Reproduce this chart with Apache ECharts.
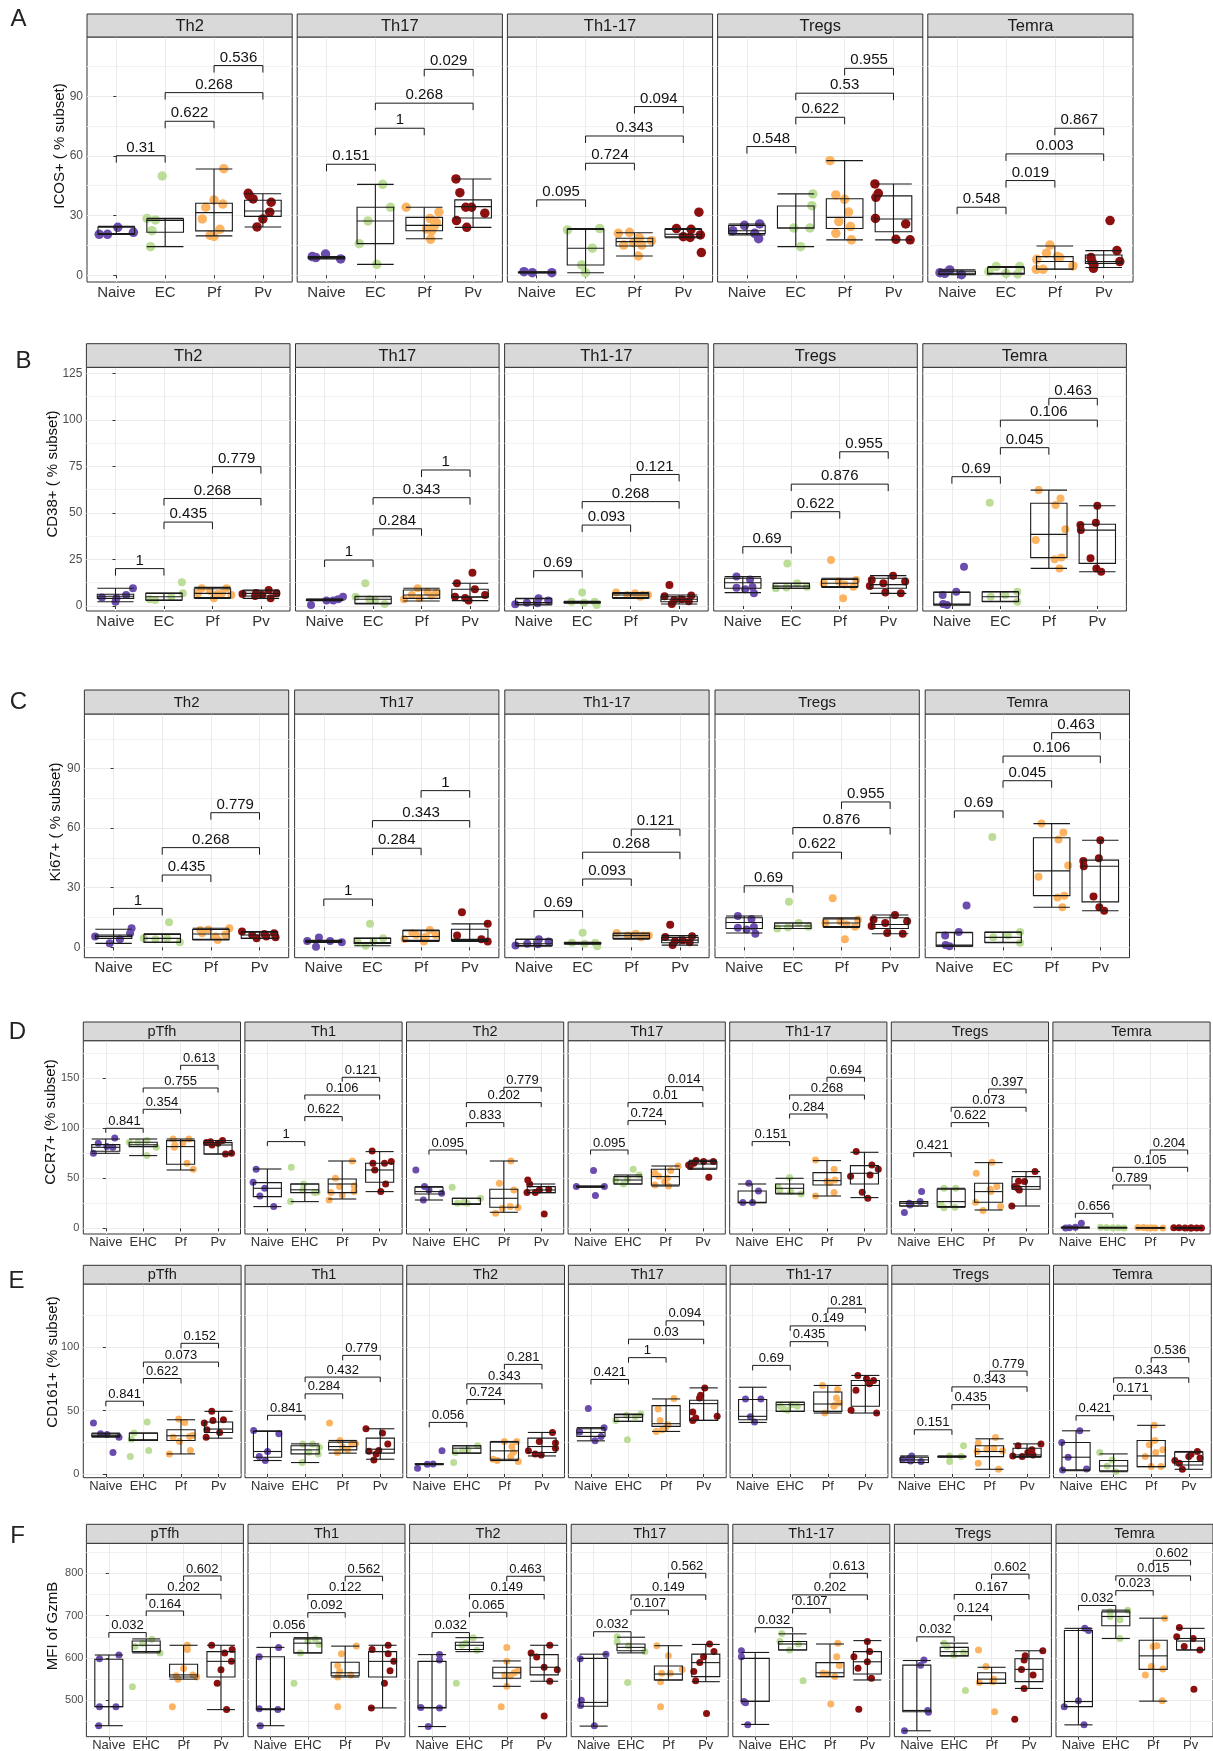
<!DOCTYPE html>
<html><head><meta charset="utf-8">
<script src="https://cdn.jsdelivr.net/npm/echarts@6/dist/echarts.min.js"></script>
<style>html,body{margin:0;padding:0;background:#fff}#c{width:1213px;height:1751px}</style>
</head><body><div id="c"></div>
<script>
// ---------- categories / labels ----------
const GROUPS_ABC = ['Naive','EC','Pf','Pv'];
const GROUPS_DEF = ['Naive','EHC','Pf','Pv'];
const SUBSETS_ABC = ['Th2','Th17','Th1-17','Tregs','Temra'];
const SUBSETS_DEF = ['pTfh','Th1','Th2','Th17','Th1-17','Tregs','Temra'];
const Y_TITLES = ['ICOS+ ( % subset)','CD38+ ( % subset)','Ki67+ ( % subset)','CCR7+ (% subset)','CD161+ (% subset)','MFI of GzmB'];
const LETTERS = ['A','B','C','D','E','F'];
const TICKS_A = [0,30,60,90], MINOR_A = [15,45,75,105];
const TICKS_B = [0,25,50,75,100,125], MINOR_B = [12.5,37.5,62.5,87.5,112.5];
const TICKS_C = [0,30,60,90], MINOR_C = [15,45,75,105];
const TICKS_D = [0,50,100,150], MINOR_D = [25,75,125,175];
const TICKS_E = [0,50,100], MINOR_E = [25,75,125];
const TICKS_F = [500,600,700,800], MINOR_F = [450,550,650,750,850];
const COMPARISONS = [[0,1],[1,2],[1,3],[2,3]];

// ---------- Row A : ICOS ----------
const A_Th2_box = [[20.5,20.8,21.0,24.2,24.6],[14.4,21.6,27.5,28.3,28.6],[19.8,22.3,31.5,36.2,53.4],[24.3,29.6,32.3,37.7,41.0]];
const A_Th2_val = [[20.6,20.6,24.1,21.6],[49.9,28.6,27.8,22.4,14.4],[53.6,37.9,35.8,34.2,28.3,23.1,20.1,19.5],[41.2,40.0,38.4,36.7,31.7,28.3,24.3]];
const A_Th2_jit = [[-0.35,-0.18,0.03,0.35],[-0.06,-0.37,-0.2,-0.27,-0.3],[0.2,0,0.18,-0.17,-0.24,0.12,-0.08,0],[-0.3,-0.28,-0.2,0.17,0.14,0,-0.12]];
const A_Th2_brk = [60.1,77.4,91.8,105.4];
const A_Th2_p = ['0.31','0.622','0.268','0.536'];

const A_Th17_box = [[8.2,8.6,8.9,9.2,9.4],[5.5,15.9,27.3,34.2,45.7],[18.4,22.4,25.1,29.1,34.2],[24.1,28.8,34.5,37.9,48.4]];
const A_Th17_val = [[9.4,8.9,10.7,8.2],[45.7,34.2,27.3,15.9,5.5],[34.2,31.8,28.5,26.5,24.5,23.3,22.3,18.1],[48.4,41.5,34.2,34.2,31.2,27.5,24.1]];
const A_Th17_jit = [[-0.29,-0.22,-0.02,0.29],[0.15,0.31,-0.15,-0.33,0.03],[-0.37,0.3,0.12,0.25,0.2,0.05,0.15,0.13],[-0.35,-0.27,-0.15,-0.03,0.24,-0.34,-0.13]];
const A_Th17_brk = [55.8,73.9,86.5,103.5];
const A_Th17_p = ['0.151','1','0.268','0.029'];

const A_Th1_17_box = [[1.2,1.3,1.4,1.6,1.8],[1.3,5.2,13.6,23.1,23.5],[9.7,14.7,16.9,18.6,21.4],[18.9,19.3,20.6,23.1,23.5]];
const A_Th1_17_val = [[1.8,1.3,1.3],[22.8,23.5,13.6,5.2,1.3],[21.6,21.1,18.9,17.4,16.4,15.2,15.2,9.7],[31.7,23.5,23.1,20.3,19.4,19.0,11.4]];
const A_Th1_17_jit = [[-0.26,-0.09,0.31],[-0.37,0.29,0.14,-0.08,0],[-0.1,-0.33,0.1,0.35,-0.02,-0.22,0.15,0.08],[0.32,-0.14,0.16,0.35,0,0.14,0.37]];
const A_Th1_17_brk = [37.9,56.3,70.0,84.8];
const A_Th1_17_p = ['0.095','0.724','0.343','0.094'];

const A_Tregs_box = [[20.3,21.0,22.4,25.1,25.8],[14.4,23.8,23.8,34.8,40.9],[17.8,23.5,29.1,38.5,57.6],[17.8,21.9,28.3,39.9,45.9]];
const A_Tregs_val = [[22.4,25.1,25.8,21.1,18.4],[40.9,35.0,23.8,23.8,14.4],[57.6,40.4,38.2,31.8,27.0,24.5,21.1,17.8],[45.9,41.2,39.2,28.6,25.8,18.1,17.8]];
const A_Tregs_jit = [[-0.29,-0.05,0.26,0.16,0.24],[0.35,0.33,-0.04,0.29,0.1],[-0.3,-0.18,0,0.08,-0.12,0.12,-0.18,0.14],[-0.38,-0.31,-0.36,-0.37,0.25,0.05,0.34]];
const A_Tregs_brk = [64.7,79.4,91.5,104.0];
const A_Tregs_p = ['0.548','0.622','0.53','0.955'];

const A_Temra_box = [[0.3,0.5,1.0,2.0,2.7],[0.7,0.7,1.0,3.9,4.4],[3.0,3.2,6.9,9.4,14.7],[3.9,6.0,6.9,10.2,12.4]];
const A_Temra_val = [[1.3,2.7,0.3,1.0],[4.4,4.4,1.8,0.7,1.0],[15.2,11.1,9.4,8.9,8.0,4.7,3.0,3.0],[27.5,12.4,9.0,6.9,6.9,5.2,3.5]];
const A_Temra_jit = [[-0.35,-0.15,0.09,-0.25],[-0.2,0.28,-0.35,0.24,0],[-0.1,-0.17,0.05,0.1,-0.37,0.37,-0.38,-0.24],[0.13,0.27,-0.26,0.33,-0.24,-0.2,-0.21]];
const A_Temra_brk = [34.2,47.6,61.0,73.9];
const A_Temra_p = ['0.548','0.019','0.003','0.867'];

// ---------- Row B : CD38 ----------
const B_Th2_box = [[2.3,4.1,5.2,6.3,9.5],[3.0,3.2,5.0,6.8,7.0],[4.1,4.5,6.8,9.3,10.0],[4.1,5.4,6.8,8.2,8.6]];
const B_Th2_val = [[9.5,5.9,4.5,4.2,2.3],[12.7,6.8,4.9,3.6,3.2],[9.5,9.5,8.1,6.8,6.8,6.5,5.9,4.1],[8.6,7.0,6.8,6.4,5.9,5.4,4.1]];
const B_Th2_jit = [[0.36,0.22,-0.28,0.02,0],[0.37,0.39,0.15,-0.29,-0.18],[-0.22,0.29,-0.05,-0.3,0.2,0.1,0.39,0.03],[0.16,-0.1,0.32,-0.38,0.03,-0.12,0.2]];
const B_Th2_brk = [20.1,45.1,57.8,74.9];
const B_Th2_p = ['1','0.435','0.268','0.779'];

const B_Th17_box = [[2.9,3.0,3.3,3.6,3.8],[1.1,1.4,3.6,5.0,5.2],[2.7,4.1,5.9,8.6,9.5],[2.9,4.7,5.0,9.0,12.2]];
const B_Th17_val = [[5.0,3.6,2.9,2.9,0.5],[12.2,5.0,3.6,2.9,1.1],[9.5,7.7,7.0,5.9,5.6,4.1,3.6],[17.9,12.2,9.0,5.9,5.0,4.3,2.9]];
const B_Th17_jit = [[0.38,0.28,0.04,0.18,-0.28],[-0.16,-0.36,-0.08,0.04,0.24],[-0.08,0.12,0.3,-0.2,0.2,-0.04,-0.36],[0.05,-0.27,0.1,0.31,-0.31,-0.1,-0.03]];
const B_Th17_brk = [24.7,41.5,58.2,73.1];
const B_Th17_p = ['1','0.284','0.343','1'];

const B_Th1_17_box = [[0.5,0.9,1.8,3.9,4.1],[1.5,1.8,2.0,2.3,2.5],[4.1,4.5,5.9,6.8,7.2],[1.1,2.3,3.6,5.0,5.9]];
const B_Th1_17_val = [[4.1,2.9,1.8,1.5,0.9],[7.3,2.3,2.3,1.8,0.5],[7.2,6.8,6.0,5.9,5.9,5.0],[11.3,5.6,5.2,3.6,3.2,2.5,1.1]];
const B_Th1_17_jit = [[0.1,0.3,-0.14,0.08,-0.38],[0,-0.22,0.26,0.04,0.3],[-0.3,0.09,0.25,-0.07,0.36,0.2],[-0.2,0.25,-0.3,0.06,-0.1,0.2,-0.15]];
const B_Th1_17_brk = [19.0,43.5,56.1,70.7];
const B_Th1_17_p = ['0.69','0.093','0.268','0.121'];

const B_Tregs_box = [[7.2,9.5,12.5,14.9,15.8],[9.5,9.5,10.7,12.2,12.2],[10.0,10.4,12.2,14.3,14.9],[6.8,9.5,11.5,14.9,16.3]];
const B_Tregs_val = [[15.8,14.3,10.2,9.8,9.0,6.8],[22.9,12.2,10.4,10.0,9.5],[24.7,14.0,13.1,12.2,11.5,10.4,4.1],[16.3,14.0,13.1,12.2,10.7,7.2,6.8]];
const B_Tregs_jit = [[-0.13,0.15,0.2,-0.13,0.05,0.23],[-0.08,0.12,0.32,-0.1,-0.32],[-0.18,0.34,-0.02,-0.33,0.1,0.28,0.07],[0.1,-0.34,0.35,-0.1,-0.38,-0.06,0.26]];
const B_Tregs_brk = [31.9,50.7,65.5,82.9];
const B_Tregs_p = ['0.69','0.622','0.876','0.955'];

const B_Temra_box = [[0.5,0.6,1.1,7.3,7.5],[2.3,2.5,5.0,7.5,7.7],[20.2,26.0,38.5,55.2,62.3],[18.4,22.9,40.8,43.9,53.9]];
const B_Temra_val = [[21.1,7.7,5.9,1.1,0.5],[55.5,7.7,5.9,5.0,2.3],[62.3,57.8,54.3,41.2,35.5,26.0,25.1,20.2],[53.9,44.8,43.5,40.8,25.6,20.2,18.4]];
const B_Temra_jit = [[0.25,0.09,-0.19,-0.18,-0.1],[-0.22,0.35,0.1,-0.2,0.35],[-0.21,0.24,0.14,0.34,-0.27,0.26,0.12,0.22],[0,-0.03,-0.35,-0.34,-0.14,-0.02,0.08]];
const B_Temra_brk = [69.5,85.1,99.9,111.6];
const B_Temra_p = ['0.69','0.045','0.106','0.463'];

// ---------- Row C : Ki67 ----------
const C_Th2_box = [[2.0,4.5,5.5,6.2,9.1],[2.5,2.5,4.5,6.5,6.8],[3.7,4.0,6.7,9.0,9.6],[4.5,4.5,6.2,7.6,7.9]];
const C_Th2_val = [[9.6,7.1,5.4,4.0,2.0],[12.6,4.5,4.5,4.0,2.5],[9.6,9.0,8.7,7.1,6.5,6.2,5.5,3.7],[7.9,7.1,6.7,6.2,5.4,5.0,4.5]];
const C_Th2_jit = [[0.37,0.34,-0.38,0.13,-0.08],[0.14,-0.38,0.1,-0.14,0.36],[0.38,-0.05,-0.22,-0.18,0.3,0.3,0.1,0.14],[-0.36,0.3,0.1,-0.15,0.14,0.33,-0.06]];
const C_Th2_brk = [19.6,36.4,50.2,67.8];
const C_Th2_p = ['1','0.435','0.268','0.779'];

const C_Th17_box = [[2.5,2.9,3.2,3.2,3.5],[0.8,2.0,2.4,4.5,4.7],[2.9,3.5,5.4,8.4,8.7],[2.9,3.4,4.0,9.1,11.8]];
const C_Th17_val = [[4.9,3.2,3.2,2.5,0.3],[11.9,4.5,2.9,2.4,0.8],[8.7,7.1,6.2,6.2,5.4,4.2,2.9],[17.6,11.8,6.0,4.0,2.9]];
const C_Th17_jit = [[-0.1,-0.34,0.13,0.37,-0.16],[-0.05,0.22,0.02,-0.3,-0.14],[0.18,-0.18,-0.1,0.3,0.1,-0.34,0.06],[-0.16,0.37,-0.26,0.24,0.37]];
const C_Th17_brk = [24.3,49.9,63.8,78.9];
const C_Th17_p = ['1','0.284','0.343','1'];

const C_Th1_17_box = B_Th1_17_box, C_Th1_17_val = B_Th1_17_val, C_Th1_17_jit = B_Th1_17_jit;
const C_Th1_17_brk = [18.5,34.4,47.9,59.5];
const C_Th1_17_p = ['0.69','0.093','0.268','0.121'];

const C_Tregs_box = B_Tregs_box, C_Tregs_val = B_Tregs_val, C_Tregs_jit = B_Tregs_jit;
const C_Tregs_brk = [31.0,47.9,60.3,73.2];
const C_Tregs_p = ['0.69','0.622','0.876','0.955'];

const C_Temra_box = B_Temra_box, C_Temra_val = B_Temra_val, C_Temra_jit = B_Temra_jit;
const C_Temra_brk = [68.7,83.9,96.3,108.1];
const C_Temra_p = ['0.69','0.045','0.106','0.463'];

// ---------- Row D : CCR7 ----------
const D_pTfh_box = [[75,77,81,83.7,89.3],[72.7,81.7,83.5,86,89.3],[58.3,64,81.7,87.7,89.3],[74.3,74.3,83.3,85.7,87.7]];
const D_pTfh_val = [[90.3,85,81.7,81,75],[87.7,86,86,81,72.7],[89.3,89.3,85.3,83.3,81,65,59],[87.7,86.5,85.7,85,83.3,75,74.3]];
const D_pTfh_jit = [[0.24,-0.2,0.03,0.19,-0.33],[0.1,-0.37,-0.14,0.35,0.1],[-0.2,0.22,0.06,-0.15,-0.17,0.17,0.34],[0.12,-0.2,-0.31,0,-0.16,0.36,0.2]];
const D_pTfh_brk = [100,119,140.3,163];
const D_pTfh_p = ['0.841','0.354','0.755','0.613'];

const D_Th1_box = [[21.7,31.7,40,45.7,59.3],[26.7,35.7,38.5,44.3,44.3],[29.3,35.7,44.3,49.3,67.3],[36.7,46,58.3,65,76.7]];
const D_Th1_val = [[59,46,40,32.3,21.7],[61,44.3,38.3,36,35.7,26.7],[67.3,50,42.3,41.7,36.7,35.7,33.3,28.3],[77.3,66.7,65,65,58.3,44.3,36.7]];
const D_Th1_jit = [[-0.3,-0.38,-0.07,-0.2,0.17],[-0.36,-0.03,-0.05,0.33,0.26,-0.38],[0.27,-0.18,0.32,-0.07,0.32,-0.3,0,-0.35],[-0.2,0.31,-0.18,0.13,-0.13,0.16,0.03]];
const D_Th1_brk = [86.7,111.7,133.3,151];
const D_Th1_p = ['1','0.622','0.106','0.121'];

const D_Th2_box = [[28.3,34.3,36.7,41,41.7],[24,24,24.5,30,30],[16,21,30,39,67.3],[35.7,35.7,38.3,41.7,44.3]];
const D_Th2_val = [[58.3,41.7,38.3,35,28.3],[41,30,25.7,25,25],[67.3,45,38.3,21.7,20.7,20,15],[48.3,44.3,39,38.3,35.7,35.7,14.3]];
const D_Th2_jit = [[-0.35,-0.12,0,0.34,-0.15],[-0.38,0.38,-0.08,-0.24,0.02],[0.19,-0.12,0.27,0.17,0.38,-0.04,-0.22],[-0.36,-0.31,0.2,-0.05,-0.16,-0.38,0.08]];
const D_Th2_brk = [78.3,105.7,125.7,141];
const D_Th2_p = ['0.095','0.833','0.202','0.779'];

const D_Th17_box = [[41,41.5,41.7,42,42.3],[44.3,44.3,48.3,51.7,53.3],[42.3,43.3,51.7,59,62.3],[59,60,64.3,66.7,68]];
const D_Th17_val = [[57.7,41.7,41.7,32.7],[59,53.3,49,47.7,44.3],[62.3,57.7,55,52,50,47,43.3,42.3],[67.7,66.7,66.7,65,63.3,61.7,51]];
const D_Th17_jit = [[0.08,-0.38,0.37,0.13],[0.14,0.3,-0.01,-0.33,-0.12],[0.34,0.14,-0.28,-0.18,0.05,-0.02,-0.28,0.08],[-0.18,0.02,0.28,-0.24,-0.38,-0.34,0.16]];
const D_Th17_brk = [78.3,107.7,125.7,141.7];
const D_Th17_p = ['0.095','0.724','0.01','0.014'];

const D_Th1_17_box = [[25.7,25.7,26,37.3,44.3],[34.3,35,40,44.3,50],[32.3,43.3,47.7,55.7,67.7],[30.7,44.3,55,62.7,76]];
const D_Th1_17_val = [[45,37.3,25.7,25.7],[50.7,41.7,38.3,36.7,34.3],[68.3,59,48.3,47,45.7,35.7,32.3],[76.7,63.3,59,53.3,52,36,30]];
const D_Th1_17_jit = [[-0.09,0.17,-0.25,0.01],[0,-0.31,-0.26,0.03,0.31],[-0.31,0.19,0.21,0,0.08,0.19,-0.31],[-0.22,0.2,0.37,0.15,-0.37,-0.06,0.09]];
const D_Th1_17_brk = [86.7,114.3,133.3,151];
const D_Th1_17_p = ['0.151','0.284','0.268','0.694'];

const D_Tregs_box = [[22.3,22.3,25,26.7,26.7],[21,21.7,26.7,39,40],[18.3,26,36.7,45,65.7],[22.3,39,41.7,51.7,56.7]];
const D_Tregs_val = [[36.7,26.7,25,23.3,15.7],[40,40,23.3,21,20.5],[66,55,41.7,39,36.7,26,21.7,17.7],[56.7,47,46.7,41.7,40,38.3,22.3]];
const D_Tregs_jit = [[0.21,0.17,-0.12,-0.1,-0.25],[-0.19,0.12,-0.27,0.1,-0.19],[0.09,-0.33,0.22,0.04,0.06,-0.35,0.32,-0.15],[0.24,-0.2,-0.04,-0.3,-0.22,-0.18,-0.38]];
const D_Tregs_brk = [75.7,105.7,121,139.3];
const D_Tregs_p = ['0.421','0.622','0.073','0.397'];

const D_Temra_box = [[0.3,0.5,0.8,1,1.2],[0.3,0.5,0.6,0.8,1],[0.2,0.3,0.5,0.7,0.8],[0.2,0.3,0.4,0.5,0.5]];
const D_Temra_val = [[5,1,0.5,0.3],[1,0.8,0.6,0.5,0.3],[0.8,0.7,0.5,0.4,0.3,0.2],[0.5,0.5,0.4,0.3,0.3,0.2,0.2]];
const D_Temra_jit = [[0.16,0,-0.16,-0.26],[-0.33,-0.17,0,0.15,0.3],[-0.33,-0.18,0.03,0.13,0.34,-0.07],[-0.37,-0.23,-0.07,0.08,0.24,0.37,0.1]];
const D_Temra_brk = [15,43.3,61,78.3];
const D_Temra_p = ['0.656','0.789','0.105','0.204'];

// ---------- Row E : CD161 ----------
const E_pTfh_box = [[29,29.6,30.5,31.7,32.2],[26.4,26.4,27,32.2,32.2],[15.8,26.4,30.1,34.8,42.7],[28.2,32.7,35.4,40.9,49.3]];
const E_pTfh_val = [[40.1,31.7,31,29,16.9],[40.9,32.2,27.4,18.5,13.7],[43.3,40.6,30.3,29.6,29,25.6,18.5,15.8],[49.3,42.7,42.2,40.1,34.8,32.7,29]];
const E_pTfh_jit = [[-0.33,-0.14,0.03,0.35,0.19],[0.1,-0.25,-0.32,0.14,-0.35],[-0.06,0.1,0.31,0.23,-0.21,-0.04,0.25,-0.31],[-0.18,0.13,-0.15,-0.38,-0.31,0.03,-0.33]];
const E_pTfh_brk = [57.3,75.2,88.1,102.9];
const E_pTfh_p = ['0.841','0.622','0.073','0.152'];

const E_Th1_box = [[10.6,13.2,17.7,33.5,34],[9,15.8,19,22.2,23.7],[16.4,19,21.6,25.1,26.4],[11.6,16.4,19.5,28.2,35.6]];
const E_Th1_val = [[34.3,31.7,17.7,13.7,10.6],[23.7,23.7,21.1,17.2,15.8,9],[40.1,26.4,24,23.5,21,19,16.9],[35.6,32.2,23.7,18.5,17.9,15.8,11.1]];
const E_Th1_jit = [[-0.37,0.3,0,-0.22,-0.06],[-0.06,0.2,0.38,0.1,0.35,-0.08],[-0.35,-0.07,0.34,0.24,0,0.13,-0.14],[-0.38,0.06,0.2,-0.04,-0.3,-0.11,-0.17]];
const E_Th1_brk = [46.2,63.1,76.3,93.4];
const E_Th1_p = ['0.841','0.284','0.432','0.779'];

const E_Th2_box = [[7.3,7.6,7.9,8,8],[16.4,16.4,20.3,22.2,22.2],[10.6,11.6,18.2,25.1,25.6],[14.2,16.9,21.6,28.2,32.7]];
const E_Th2_val = [[18.2,7.9,7.6,4.5],[22.2,19,18.2,16.9,9],[25.6,25.6,21.6,17.2,13.7,11.6,10.6,9.8],[32.7,25.6,24.3,20.3,18.2,15.8,15]];
const E_Th2_jit = [[0.34,0.1,-0.05,-0.31],[0.29,0.03,-0.12,-0.31,-0.35],[0,0.33,0.2,0.24,0.17,-0.3,-0.19,0.37],[0.28,-0.07,0.36,0.36,-0.36,-0.18,-0.02]];
const E_Th2_brk = [40.6,58.6,71,86.3];
const E_Th2_p = ['0.056','0.724','0.343','0.281'];

const E_Th17_box = [[26.1,29.6,32.7,35.6,36.5],[41.4,41.4,44.6,46.7,47.2],[33.5,37.5,39.6,53.8,59.1],[42.2,42.2,55.4,58,67.8]];
const E_Th17_val = [[51.5,36.5,33,29.6,26.1],[47.2,46.2,45,42.2,26.9],[59.4,51.2,42.2,38.8,36.1,34.8,33.5],[67.8,62,59.9,48.8,45.4,44,42.2]];
const E_Th17_jit = [[-0.07,0.35,-0.3,0.27,0.11],[0.33,-0.05,0.18,-0.34,-0.03],[0.21,-0.21,-0.16,0.05,-0.02,-0.1,-0.26],[0.03,-0.08,-0.11,-0.29,0.36,-0.21,-0.29]];
const E_Th17_brk = [74.4,91.6,106.1,120.6];
const E_Th17_p = ['0.421','1','0.03','0.094'];

const E_Th1_17_box = [[40.6,42.7,45.4,58.6,68.3],[49.3,49.3,54.6,56.5,56.5],[48,49.3,55.1,64.6,69.7],[48,53.3,69.7,73.6,77.6]];
const E_Th1_17_val = [[59.1,59.1,45,40.9],[54.6,53.3,53.3,51.2,50.1],[69.7,66.5,59.9,55.9,54,53.3,48],[77.6,74.9,73.6,71,66,50.1,48]];
const E_Th1_17_jit = [[-0.19,0.22,-0.06,0.05],[0.03,-0.26,0.19,-0.17,-0.07],[-0.14,0.26,0.23,0.3,0.18,0.16,-0.08],[-0.2,0.03,0.22,0.11,-0.25,-0.38,0.3]];
const E_Th1_17_brk = [85.5,104.2,116.6,130.6];
const E_Th1_17_p = ['0.69','0.435','0.149','0.281'];

const E_Tregs_box = [[9,9,11.1,13.2,14.2],[13.2,13.5,13.7,13.9,14.2],[3.7,13.7,17.7,22.2,27.7],[13.2,13.7,15,20.3,23.7]];
const E_Tregs_val = [[14.2,12,11.6,10.3,9.8],[22.2,14.2,13.7,9.8],[28.8,24.3,20.3,19.5,18.2,17.7,8.4,3.7],[23.7,22.2,19,17,15,14.2,13.7]];
const E_Tregs_jit = [[-0.07,-0.15,-0.31,-0.1,0.18],[0.31,-0.06,0.25,-0.06],[0.16,-0.3,0.12,-0.07,0.35,-0.33,-0.3,0.24],[0.37,-0.24,0.13,0.02,0.16,-0.38,-0.13]];
const E_Tregs_brk = [34.8,54.6,68.6,81];
const E_Tregs_p = ['0.151','0.435','0.343','0.779'];

const E_Temra_box = [[2.6,3.2,13.2,24.8,34],[1.8,2.6,6.3,10.6,15.8],[5.8,5.8,14.2,26.4,38.3],[3.7,7.1,9.8,17.2,17.7]];
const E_Temra_val = [[34,24.8,13.2,4,3.2],[16.9,11.1,6.3,1.8],[38.3,26.4,23,19,16.9,13.7,5.8,5.8],[17.7,15.5,13.7,12.5,10.6,8.4,3.7]];
const E_Temra_jit = [[0.1,-0.38,-0.21,0.28,-0.36],[-0.37,-0.04,-0.17,0.06],[0.08,0.1,-0.05,0.31,0.12,-0.16,0,0.26],[0.23,0.06,0,0.3,-0.37,-0.25,-0.17]];
const E_Temra_brk = [45.9,62,75.7,91.6];
const E_Temra_p = ['0.421','0.171','0.343','0.536'];

// ---------- Row F : GzmB MFI ----------
const F_pTfh_box = [[440,485,485,597,607],[612,615,630,640,645],[550,555,560,585,630],[478,555,592,615,630]];
const F_pTfh_val = [[607,598,485,485,440],[644,635,627,612,532],[630,620,575,560,558,555,550,485],[630,620,612,592,572,540,478]];
const F_pTfh_jit = [[0.27,-0.25,-0.25,0.19,-0.27],[0.15,-0.1,-0.3,0.37,-0.37],[0.1,0.1,0,0.25,-0.2,0.35,-0.15,-0.3],[-0.25,0.3,0.1,0.28,0,-0.1,0.15]];
const F_pTfh_brk = [660,711,750.4,793.7];
const F_pTfh_p = ['0.032','0.164','0.202','0.602'];

const F_Th1_box = [[440,478,480,603,625],[612,612,635,645,648],[555,558,565,590,628],[482,555,592,615,630]];
const F_Th1_val = [[625,603,480,478,440],[645,640,632,612,540],[628,610,582,568,560,555,485],[630,620,610,592,570,540,482]];
const F_Th1_jit = [[0.22,-0.3,-0.3,0.2,-0.27],[0.2,0,0.3,-0.2,-0.37],[0.3,-0.1,-0.2,-0.15,0.15,-0.2,-0.2],[0.15,-0.28,0.15,0.3,0.2,0.05,-0.3]];
const F_Th1_brk = [660,707,750,793];
const F_Th1_p = ['0.056','0.092','0.122','0.562'];

const F_Th2_box = [[438,482,483,592,608],[615,620,630,637,648],[533,552,565,578,593],[545,560,578,608,630]];
const F_Th2_val = [[608,595,483,482,438],[648,635,630,618,540],[625,592,570,565,560,558,533,485],[630,612,602,578,572,545,463]];
const F_Th2_jit = [[0.2,0.2,-0.3,0.2,-0.1],[0.1,-0.1,-0.2,0.2,-0.35],[0,0,0.3,0.2,-0.05,0.1,0,-0.15],[0.15,-0.35,-0.2,0,0.35,0.15,0]];
const F_Th2_brk = [660,708,750,793];
const F_Th2_p = ['0.032','0.065','0.149','0.463'];

const F_Th17_box = [[439,486,495,599,609],[612,617,625,633,649],[548,548,562,581,629],[544,556,589,609,632]];
const F_Th17_val = [[609,598,500,488,440],[650,638,629,615,542],[629,605.5,573,564,564,544,485],[633,615,603,589,568,546,469]];
const F_Th17_jit = [[0.33,-0.36,-0.33,-0.35,0.02],[-0.37,-0.37,-0.07,0.37,-0.09],[-0.31,0,0.37,-0.18,0.05,-0.21,-0.21],[0.1,0.22,-0.06,-0.16,-0.32,-0.27,0.02]];
const F_Th17_brk = [662,713,749,800];
const F_Th17_p = ['0.032','0.107','0.149','0.562'];

const F_Th1_17_box = [[443,497,498,599,613],[619,619,633,639,657],[556,556,565,589,633],[548,562,591,615,641]];
const F_Th1_17_val = [[617,603,497,494,442],[658,639,633,619,546],[635,603,582,564,562,556,491],[639,615,603,591,576,552,479]];
const F_Th1_17_jit = [[-0.37,-0.37,-0.3,-0.26,-0.2],[-0.29,-0.34,0.16,-0.08,0.28],[0.21,0.18,0.25,-0.19,-0.08,0.13,0.02],[0,0.06,-0.36,0,-0.25,0.11,-0.23]];
const F_Th1_17_brk = [671.7,717,749,800];
const F_Th1_17_p = ['0.032','0.107','0.202','0.613'];

const F_Tregs_box = [[428,473,476,583,594],[605,605,615,625,635],[540,540,550,565,578],[528,544,573,598,617]];
const F_Tregs_val = [[595,583,476,472,428],[635,627,613,607,523],[619,580,550,544,542,473],[617,605,595,573,560,528,455]];
const F_Tregs_jit = [[0.19,0.1,0.29,0.31,-0.33],[-0.27,-0.19,0.25,-0.01,0.3],[-0.35,-0.15,0.06,0.03,-0.33,0.08],[0.37,-0.1,-0.13,-0.2,0.11,-0.13,-0.38]];
const F_Tregs_brk = [650,700,750,798];
const F_Tregs_p = ['0.032','0.124','0.167','0.602'];

const F_Temra_box = [[442,485,497,665,670],[646,676,698,709,713],[498,573,605,642,694],[619,619,640,646,670]];
const F_Temra_val = [[670,665,499,485,442],[713,709,698,690,646],[694,629,627,580,574,560,499],[672,650,646,627,619,526]];
const F_Temra_jit = [[0.17,0.27,0,-0.38,0.15],[0.32,-0.15,-0.15,0.11,0.11],[0.31,0.1,0,-0.05,0.26,-0.21,0.24],[-0.3,-0.37,0.07,-0.17,0.25,0.09]];
const F_Temra_brk = [724,759,794,830.7];
const F_Temra_p = ['0.032','0.023','0.015','0.602'];

// ---------- assembly ----------
const FONT = '"Liberation Sans", Arial, Helvetica, sans-serif';
const NARROW = '"Liberation Sans Narrow", "Liberation Sans", Arial, sans-serif';
const COLORS = ['#6A4DAE','#BCDD97','#FDB462','#8C1010'];
const mk = (box,val,jit,brk,p) => ({box,val,jit,brk,p});

const ROWS = [
  {title:Y_TITLES[0], letter:LETTERS[0], lx:18.5, ly:19, tx:60, ty:146, groups:GROUPS_ABC, subsets:SUBSETS_ABC,
   panels:[mk(A_Th2_box,A_Th2_val,A_Th2_jit,A_Th2_brk,A_Th2_p),mk(A_Th17_box,A_Th17_val,A_Th17_jit,A_Th17_brk,A_Th17_p),mk(A_Th1_17_box,A_Th1_17_val,A_Th1_17_jit,A_Th1_17_brk,A_Th1_17_p),mk(A_Tregs_box,A_Tregs_val,A_Tregs_jit,A_Tregs_brk,A_Tregs_p),mk(A_Temra_box,A_Temra_val,A_Temra_jit,A_Temra_brk,A_Temra_p)],
   stripTop:14, stripBot:37, plotBot:282, L:87, S:210.2, W:205.2, ymin:-3.37, ymax:119.75, majors:TICKS_A, minors:MINOR_A,
   fs:{strip:16.5, x:15, y:12, p:15}, yFont:FONT, dot:9.5, tip:7, xm:3, ym:4},
  {title:Y_TITLES[1], letter:LETTERS[1], lx:23.5, ly:361, tx:52.5, ty:474, groups:GROUPS_ABC, subsets:SUBSETS_ABC,
   panels:[mk(B_Th2_box,B_Th2_val,B_Th2_jit,B_Th2_brk,B_Th2_p),mk(B_Th17_box,B_Th17_val,B_Th17_jit,B_Th17_brk,B_Th17_p),mk(B_Th1_17_box,B_Th1_17_val,B_Th1_17_jit,B_Th1_17_brk,B_Th1_17_p),mk(B_Tregs_box,B_Tregs_val,B_Tregs_jit,B_Tregs_brk,B_Tregs_p),mk(B_Temra_box,B_Temra_val,B_Temra_jit,B_Temra_brk,B_Temra_p)],
   stripTop:343.7, stripBot:367.3, plotBot:611, L:86.4, S:209.1, W:203.6, ymin:-2.69, ymax:128.3, majors:TICKS_B, minors:MINOR_B,
   fs:{strip:16.5, x:15, y:12, p:15}, yFont:FONT, dot:8, tip:7, xm:3, ym:4},
  {title:Y_TITLES[2], letter:LETTERS[2], lx:18.5, ly:702, tx:56, ty:822, groups:GROUPS_ABC, subsets:SUBSETS_ABC,
   panels:[mk(C_Th2_box,C_Th2_val,C_Th2_jit,C_Th2_brk,C_Th2_p),mk(C_Th17_box,C_Th17_val,C_Th17_jit,C_Th17_brk,C_Th17_p),mk(C_Th1_17_box,C_Th1_17_val,C_Th1_17_jit,C_Th1_17_brk,C_Th1_17_p),mk(C_Tregs_box,C_Tregs_val,C_Tregs_jit,C_Tregs_brk,C_Tregs_p),mk(C_Temra_box,C_Temra_val,C_Temra_jit,C_Temra_brk,C_Temra_p)],
   stripTop:690, stripBot:714, plotBot:957.7, L:84.4, S:210.2, W:204.3, ymin:-5.24, ymax:117.5, majors:TICKS_C, minors:MINOR_C,
   fs:{strip:15, x:15, y:12, p:15}, yFont:FONT, dot:8, tip:7, xm:3, ym:4},
  {title:Y_TITLES[3], letter:LETTERS[3], lx:17.5, ly:1032, tx:50.6, ty:1122, groups:GROUPS_DEF, subsets:SUBSETS_DEF,
   panels:[mk(D_pTfh_box,D_pTfh_val,D_pTfh_jit,D_pTfh_brk,D_pTfh_p),mk(D_Th1_box,D_Th1_val,D_Th1_jit,D_Th1_brk,D_Th1_p),mk(D_Th2_box,D_Th2_val,D_Th2_jit,D_Th2_brk,D_Th2_p),mk(D_Th17_box,D_Th17_val,D_Th17_jit,D_Th17_brk,D_Th17_p),mk(D_Th1_17_box,D_Th1_17_val,D_Th1_17_jit,D_Th1_17_brk,D_Th1_17_p),mk(D_Tregs_box,D_Tregs_val,D_Tregs_jit,D_Tregs_brk,D_Tregs_p),mk(D_Temra_box,D_Temra_val,D_Temra_jit,D_Temra_brk,D_Temra_p)],
   stripTop:1022, stripBot:1040.7, plotBot:1234, L:83.3, S:161.6, W:157.2, ymin:-5.7, ymax:187.6, majors:TICKS_D, minors:MINOR_D,
   fs:{strip:14.5, x:13, y:11, p:13}, yFont:NARROW, dot:7, tip:4.5, xm:2, ym:4},
  {title:Y_TITLES[4], letter:LETTERS[4], lx:16.5, ly:1281, tx:52.5, ty:1362, groups:GROUPS_DEF, subsets:SUBSETS_DEF,
   panels:[mk(E_pTfh_box,E_pTfh_val,E_pTfh_jit,E_pTfh_brk,E_pTfh_p),mk(E_Th1_box,E_Th1_val,E_Th1_jit,E_Th1_brk,E_Th1_p),mk(E_Th2_box,E_Th2_val,E_Th2_jit,E_Th2_brk,E_Th2_p),mk(E_Th17_box,E_Th17_val,E_Th17_jit,E_Th17_brk,E_Th17_p),mk(E_Th1_17_box,E_Th1_17_val,E_Th1_17_jit,E_Th1_17_brk,E_Th1_17_p),mk(E_Tregs_box,E_Tregs_val,E_Tregs_jit,E_Tregs_brk,E_Tregs_p),mk(E_Temra_box,E_Temra_val,E_Temra_jit,E_Temra_brk,E_Temra_p)],
   stripTop:1265.3, stripBot:1284, plotBot:1477.7, L:83.3, S:161.7, W:157.8, ymin:-2.93, ymax:149.6, majors:TICKS_E, minors:MINOR_E,
   fs:{strip:14.5, x:13, y:11, p:13}, yFont:NARROW, dot:7, tip:5, xm:2, ym:4},
  {title:Y_TITLES[5], letter:LETTERS[5], lx:17.5, ly:1536, tx:52.5, ty:1626, groups:GROUPS_DEF, subsets:SUBSETS_DEF,
   panels:[mk(F_pTfh_box,F_pTfh_val,F_pTfh_jit,F_pTfh_brk,F_pTfh_p),mk(F_Th1_box,F_Th1_val,F_Th1_jit,F_Th1_brk,F_Th1_p),mk(F_Th2_box,F_Th2_val,F_Th2_jit,F_Th2_brk,F_Th2_p),mk(F_Th17_box,F_Th17_val,F_Th17_jit,F_Th17_brk,F_Th17_p),mk(F_Th1_17_box,F_Th1_17_val,F_Th1_17_jit,F_Th1_17_brk,F_Th1_17_p),mk(F_Tregs_box,F_Tregs_val,F_Tregs_jit,F_Tregs_brk,F_Tregs_p),mk(F_Temra_box,F_Temra_val,F_Temra_jit,F_Temra_brk,F_Temra_p)],
   stripTop:1524.3, stripBot:1543.3, plotBot:1736.7, L:86.4, S:161.6, W:157, ymin:414, ymax:870.9, majors:TICKS_F, minors:MINOR_F,
   fs:{strip:14.5, x:13, y:11, p:13}, yFont:FONT, dot:7, tip:5, xm:2, ym:3}
];

const grids = [], xAxes = [], yAxes = [], series = [], graphics = [];
const LINE = '#1a1a1a';

ROWS.forEach((R) => {
  graphics.push({type:'text', x:R.lx, y:R.ly, z:10, style:{text:R.letter, font:'24px ' + FONT, fill:'#222', align:'center', textAlign:'center', verticalAlign:'middle', textVerticalAlign:'middle'}});
  graphics.push({type:'text', x:R.tx, y:R.ty, rotation:Math.PI/2, z:10, style:{text:R.title, font:'15px ' + FONT, fill:'#111', align:'center', textAlign:'center', verticalAlign:'middle', textVerticalAlign:'middle'}});
  R.panels.forEach((P, pi) => {
    const gi = grids.length;
    const left = R.L + pi * R.S;
    grids.push({left:left, top:R.stripBot, width:R.W, height:R.plotBot - R.stripBot, show:true,
      borderColor:'#333', borderWidth:1, backgroundColor:'#fff', containLabel:false, outerBoundsMode:'none'});
    // strip
    graphics.push({type:'rect', z:5, shape:{x:left, y:R.stripTop, width:R.W, height:R.stripBot - R.stripTop},
      style:{fill:'#d9d9d9', stroke:'#333', lineWidth:1}});
    graphics.push({type:'text', z:6, x:left + R.W/2, y:(R.stripTop + R.stripBot)/2 + 0.5,
      style:{text:R.subsets[pi], font:R.fs.strip + 'px ' + FONT, fill:'#1a1a1a', align:'center', textAlign:'center', verticalAlign:'middle', textVerticalAlign:'middle'}});
    xAxes.push({gridIndex:gi, type:'value', min:-0.6, max:3.6, position:'bottom',
      axisLine:{show:false},
      axisTick:{show:true, customValues:[0,1,2,3], length:3, lineStyle:{color:'#333', width:1}},
      axisLabel:{customValues:[0,1,2,3], formatter:(v) => R.groups[Math.round(v)], color:'#333', fontSize:R.fs.x, fontFamily:FONT, margin:R.xm},
      splitLine:{show:true, customValues:[0,1,2,3], lineStyle:{color:'#ebebeb', width:1}}});
    const yi = yAxes.length;
    yAxes.push({gridIndex:gi, type:'value', min:R.ymin, max:R.ymax, position:'left',
      axisLine:{show:false},
      axisTick:{show:pi === 0, customValues:R.majors, length:3, lineStyle:{color:'#333', width:1}},
      axisLabel:{show:pi === 0, customValues:R.majors, color:'#4d4d4d', fontSize:R.fs.y, fontFamily:R.yFont, margin:R.ym},
      splitLine:{show:true, customValues:R.majors, lineStyle:{color:'#ebebeb', width:1}}});
    yAxes.push({gridIndex:gi, type:'value', min:R.ymin, max:R.ymax, position:'right',
      axisLine:{show:false},
      axisTick:{show:false, customValues:R.minors},
      axisLabel:{show:false, customValues:R.minors},
      splitLine:{show:true, customValues:R.minors, lineStyle:{color:'#f2f2f2', width:1}}});

    // points
    const pts = [];
    P.val.forEach((arr, g) => arr.forEach((v, k) => {
      pts.push({value:[g + (P.jit[g][k] || 0), v], itemStyle:{color:COLORS[g]}});
    }));
    series.push({type:'scatter', xAxisIndex:gi, yAxisIndex:yi, data:pts, symbol:'circle', symbolSize:R.dot,
      z:2, silent:true, animation:false, itemStyle:{opacity:1, borderWidth:0}});

    // boxes with full-range error bars
    series.push({type:'custom', xAxisIndex:gi, yAxisIndex:yi, z:3, silent:true, animation:false, clip:false,
      data:P.box.map((b, g) => [g].concat(b)),
      renderItem:(params, api) => {
        const x = api.value(0), half = 0.375;
        const yMin = api.coord([x, api.value(1)])[1];
        const yQ1 = api.coord([x, api.value(2)])[1];
        const yMed = api.coord([x, api.value(3)])[1];
        const yQ3 = api.coord([x, api.value(4)])[1];
        const yMax = api.coord([x, api.value(5)])[1];
        const xc = api.coord([x, 0])[0];
        const xl = api.coord([x - half, 0])[0], xr = api.coord([x + half, 0])[0];
        const st = {stroke:LINE, lineWidth:1.1, fill:null};
        return {type:'group', children:[
          {type:'line', shape:{x1:xc, y1:yMin, x2:xc, y2:yMax}, style:st},
          {type:'line', shape:{x1:xl, y1:yMin, x2:xr, y2:yMin}, style:st},
          {type:'line', shape:{x1:xl, y1:yMax, x2:xr, y2:yMax}, style:st},
          {type:'rect', shape:{x:xl, y:yQ3, width:xr - xl, height:yQ1 - yQ3}, style:{stroke:LINE, lineWidth:1.1, fill:'rgba(0,0,0,0)'}},
          {type:'line', shape:{x1:xl, y1:yMed, x2:xr, y2:yMed}, style:st}
        ]};
      }});

    // significance brackets
    series.push({type:'custom', xAxisIndex:gi, yAxisIndex:yi, z:4, silent:true, animation:false, clip:false,
      data:P.brk.map((y, k) => [COMPARISONS[k][0], COMPARISONS[k][1], y]),
      renderItem:(params, api) => {
        const a = api.coord([api.value(0), api.value(2)]);
        const b = api.coord([api.value(1), api.value(2)]);
        const t = R.tip;
        return {type:'group', children:[
          {type:'polyline', shape:{points:[[a[0], a[1] + t], [a[0], a[1]], [b[0], b[1]], [b[0], b[1] + t]]},
           style:{stroke:LINE, lineWidth:1, fill:null}},
          {type:'text', x:(a[0] + b[0]) / 2, y:a[1] - 0.5,
           style:{text:P.p[params.dataIndex], font:R.fs.p + 'px ' + FONT, fill:'#111', align:'center', textAlign:'center', verticalAlign:'bottom', textVerticalAlign:'bottom'}}
        ]};
      }});
  });
});

const chart = echarts.init(document.getElementById('c'), null, {renderer:'canvas', width:1213, height:1751});
chart.setOption({
  animation:false,
  backgroundColor:'#ffffff',
  textStyle:{fontFamily:FONT},
  grid:grids, xAxis:xAxes, yAxis:yAxes, series:series, graphic:graphics
});
</script>
</body></html>
